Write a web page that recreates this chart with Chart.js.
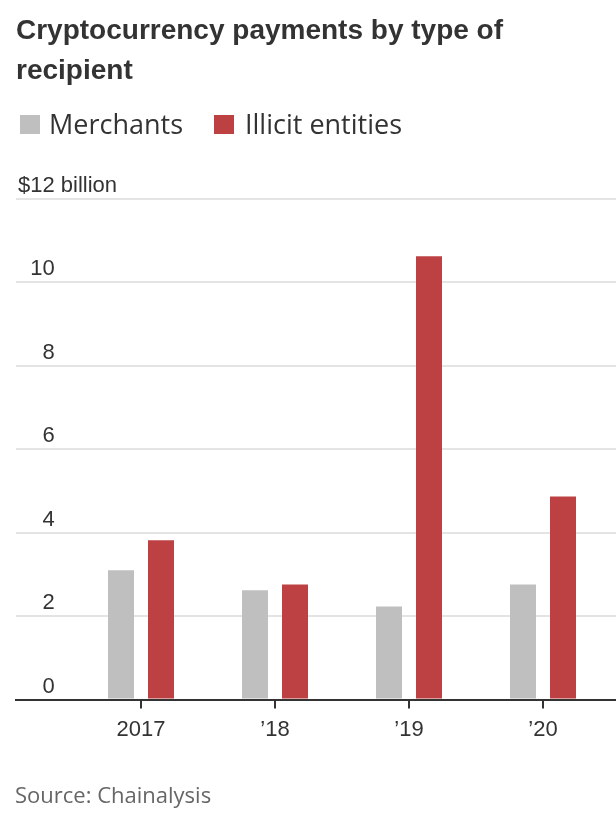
<!DOCTYPE html>
<html>
<head>
<meta charset="utf-8">
<script src="https://cdn.jsdelivr.net/npm/chart.js@4.4.1/dist/chart.umd.min.js"></script>
<style>
  html, body { margin:0; padding:0; background:#fff; }
  body { width:616px; height:814px; position:relative; overflow:hidden; }
  #c { position:absolute; left:0; top:0; }
  .t { position:absolute; white-space:nowrap; }
  #title { left:16px; top:10px; font:bold 28px/40px 'Liberation Sans', Arial, sans-serif; color:#333; }
  .lbox { position:absolute; width:20px; height:19px; top:115px; }
  .ltxt { position:absolute; top:110px; font:400 27px/27px 'Open Sans', sans-serif; color:#333; }
  #source { left:15px; top:783px; font:400 22px/22px 'Open Sans', sans-serif; color:#666; }
</style>
</head>
<body>
<canvas id="c" width="616" height="814"></canvas>
<div id="title" class="t">Cryptocurrency payments by type of<br>recipient</div>
<div class="lbox" style="left:20px;background:#bfbfbf"></div>
<div class="ltxt" style="left:49px">Merchants</div>
<div class="lbox" style="left:214px;background:#bd4043"></div>
<div class="ltxt" style="left:245px">Illicit entities</div>
<div id="source" class="t">Source: Chainalysis</div>
<script>
const categories = ['2017', '\u201918', '\u201919', '\u201920'];
const merchants = [3.10, 2.62, 2.23, 2.76];
const illicit = [3.82, 2.76, 10.63, 4.87];
const seriesNames = ['Merchants', 'Illicit entities'];
const yTicks = [0, 2, 4, 6, 8, 10, 12];
const yTopPrefix = '$';
const yTopSuffix = ' billion';

const tickFont = { family: "'Liberation Sans', Arial, sans-serif", size: 22 };
const Y_LABEL_OFFSET = -13;
const Y_PAD = 2;

const billionPlugin = {
  id: 'billion',
  afterDraw(chart) {
    const ys = chart.scales.y;
    const ctx = chart.ctx;
    ctx.save();
    ctx.font = tickFont.size + 'px ' + tickFont.family;
    const topVal = yTicks[yTicks.length - 1];
    const w = ctx.measureText(yTopPrefix + topVal).width;
    ctx.fillStyle = '#333';
    ctx.textAlign = 'left';
    ctx.textBaseline = 'middle';
    ctx.fillText(yTopSuffix, ys.right + Y_PAD + w, ys.getPixelForValue(topVal) + Y_LABEL_OFFSET);
    ctx.restore();
  }
};

const idx = categories.map((_, i) => i);
new Chart(document.getElementById('c'), {
  type: 'bar',
  data: {
    datasets: [
      { label: seriesNames[0], data: idx.map(i => ({ x: i, y: merchants[i] })), backgroundColor: '#bfbfbf', borderWidth: 0 },
      { label: seriesNames[1], data: idx.map(i => ({ x: i, y: illicit[i] })), backgroundColor: '#bd4043', borderWidth: 0 }
    ]
  },
  options: {
    responsive: false,
    animation: false,
    devicePixelRatio: 1,
    categoryPercentage: 0.597,
    barPercentage: 0.65,
    layout: { padding: { top: 199, left: 12, right: 0, bottom: 63 } },
    plugins: { legend: { display: false }, tooltip: { enabled: false }, title: { display: false } },
    scales: {
      x: {
        type: 'linear',
        min: -0.9328,
        max: 3.5448,
        offset: false,
        afterBuildTicks: (scale) => { scale.ticks = idx.map(v => ({ value: v })); },
        grid: { display: true, drawOnChartArea: false, drawTicks: true, tickLength: 9, color: '#333', lineWidth: 2, offset: false },
        border: { display: true, color: '#333', width: 2 },
        ticks: { font: tickFont, color: '#333', padding: 8, maxRotation: 0, autoSkip: false,
                 callback: (v) => categories[v] }
      },
      y: {
        min: 0,
        max: 12,
        afterBuildTicks: (scale) => { scale.ticks = yTicks.map(v => ({ value: v })); },
        grid: { drawTicks: false, color: (c) => c.tick && c.tick.value === 0 ? 'rgba(0,0,0,0)' : '#e4e4e4', lineWidth: 2 },
        border: { display: false },
        ticks: { mirror: true, crossAlign: 'far', padding: Y_PAD, labelOffset: Y_LABEL_OFFSET, font: tickFont, color: '#333',
                 callback: (v) => v === yTicks[yTicks.length - 1] ? yTopPrefix + v : String(v) }
      }
    }
  },
  plugins: [billionPlugin]
});
</script>
</body>
</html>
